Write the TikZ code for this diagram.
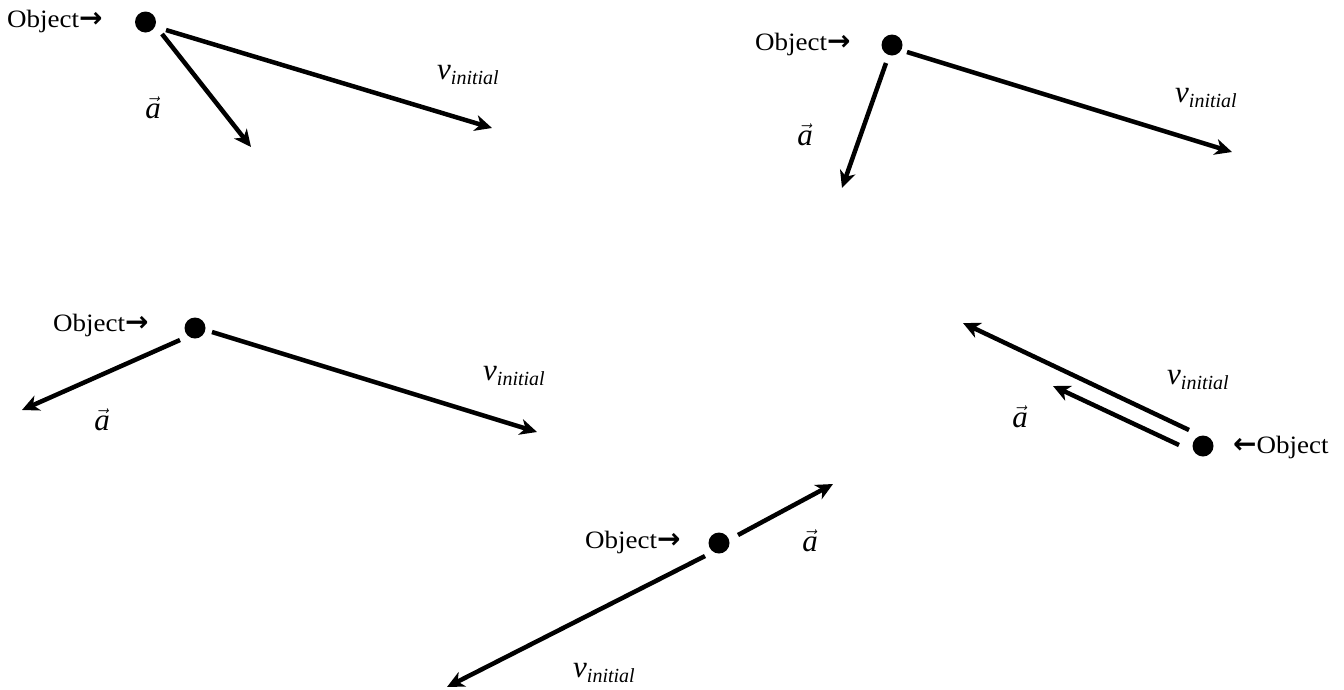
\documentclass[tikz,border=0pt]{standalone}
\usepackage{fontspec}
\setmainfont{Liberation Serif}
\newfontfamily\arrowfont{DejaVu Sans}
\usetikzlibrary{arrows.meta}
\tikzset{
  vecline/.style={line width=4.5pt, -{Stealth[length=17pt,width=16pt,inset=5pt]}},
  dotnode/.style={circle, fill=black, inner sep=0pt, minimum size=21pt},
  objlabel/.style={inner sep=0pt, font=\fontsize{25}{28}\selectfont},
  vlabel/.style={inner sep=0pt, anchor=base west},
  alabel/.style={inner sep=0pt, anchor=base},
}
\newcommand{\objR}{\scalebox{1.08}[1]{Object}{\arrowfont\bfseries\fontsize{28}{30}\selectfont →}}
\newcommand{\objL}{{\arrowfont\bfseries\fontsize{28}{30}\selectfont ←}\scalebox{1.08}[1]{Object}}
\newcommand{\vinit}{{\fontsize{31}{32}\selectfont\itshape v}\raisebox{-5pt}{\fontsize{20}{22}\selectfont\itshape initial}}
\newcommand{\avec}{{\fontsize{31}{32}\selectfont$\vec{\mbox{\itshape a}}$}}
\begin{document}
\begin{tikzpicture}[x=1pt,y=-1pt]
\useasboundingbox (0,0) rectangle (1344,689);
% panel 1
\node[dotnode] (o1) at (145.5,22) {};
\node[objlabel, anchor=west] (t1) at (7,21) {\objR};
\coordinate (v1s) at (166,30); \coordinate (v1e) at (492,128);
\coordinate (a1s) at (162,34); \coordinate (a1e) at (251,147);
\draw[vecline] (v1s) -- (v1e);
\draw[vecline] (a1s) -- (a1e);
\node[vlabel] (lv1) at (437,79) {\vinit};
\node[alabel] (la1) at (153,118) {\avec};
% panel 2
\node[dotnode] (o2) at (892,45) {};
\node[objlabel, anchor=west] (t2) at (755,44) {\objR};
\coordinate (v2s) at (907,52); \coordinate (v2e) at (1232,152);
\coordinate (a2s) at (886,63); \coordinate (a2e) at (842,188);
\draw[vecline] (v2s) -- (v2e);
\draw[vecline] (a2s) -- (a2e);
\node[vlabel] (lv2) at (1175,102) {\vinit};
\node[alabel] (la2) at (805,145) {\avec};
% panel 3
\node[dotnode] (o3) at (195,328) {};
\node[objlabel, anchor=west] (t3) at (53,325) {\objR};
\coordinate (v3s) at (212,332); \coordinate (v3e) at (537,432);
\coordinate (a3s) at (180,340); \coordinate (a3e) at (22,410);
\draw[vecline] (v3s) -- (v3e);
\draw[vecline] (a3s) -- (a3e);
\node[vlabel] (lv3) at (483,380) {\vinit};
\node[alabel] (la3) at (102,430) {\avec};
% panel 4
\node[dotnode] (o4) at (1203,446) {};
\node[objlabel, anchor=west] (t4) at (1233,447) {\objL};
\coordinate (v4s) at (1189,430); \coordinate (v4e) at (963,323);
\coordinate (a4s) at (1179,445); \coordinate (a4e) at (1053,386);
\draw[vecline] (v4s) -- (v4e);
\draw[vecline] (a4s) -- (a4e);
\node[vlabel] (lv4) at (1167,384) {\vinit};
\node[alabel] (la4) at (1020,427) {\avec};
% panel 5
\node[dotnode] (o5) at (719,543) {};
\node[objlabel, anchor=west] (t5) at (585,542) {\objR};
\coordinate (a5s) at (738,535); \coordinate (a5e) at (833,484);
\coordinate (v5s) at (705,556); \coordinate (v5e) at (447,687);
\draw[vecline] (a5s) -- (a5e);
\draw[vecline] (v5s) -- (v5e);
\node[vlabel] (lv5) at (573,677) {\vinit};
\node[alabel] (la5) at (810,551) {\avec};
\end{tikzpicture}
\end{document}
